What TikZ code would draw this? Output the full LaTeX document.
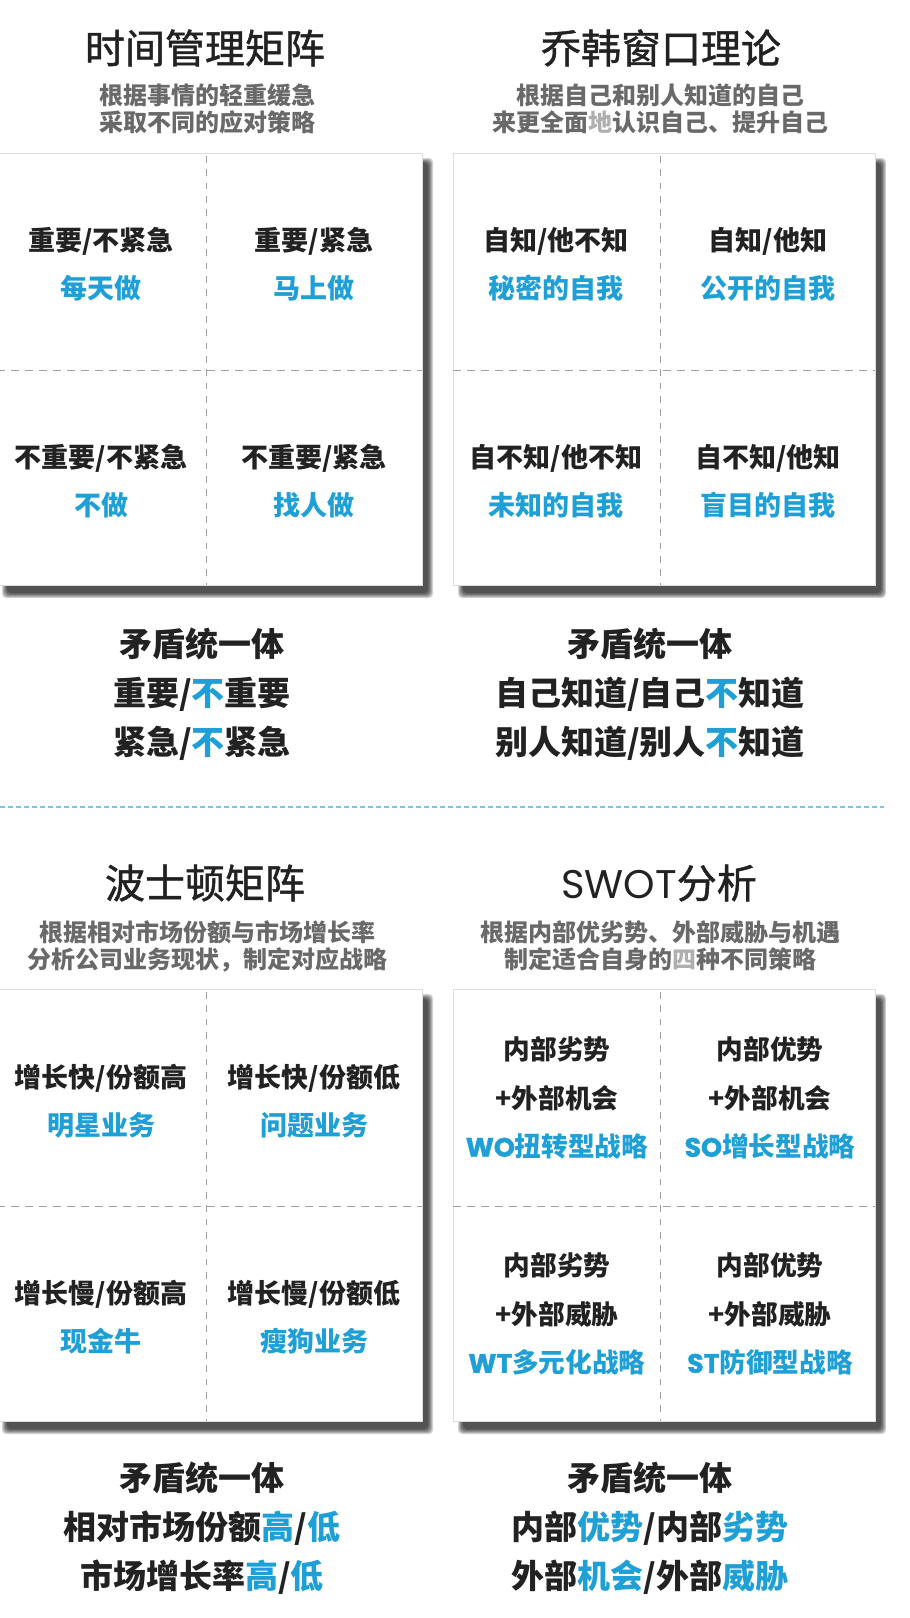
\documentclass[tikz,border=0pt]{standalone}
\usepackage{fontspec}
\setmainfont{Noto Sans CJK SC}
\newfontfamily\ttlfont{Noto Sans CJK SC}[FakeBold=1.2]
\newfontfamily\geo{Poppins}
\newfontfamily\geomid{Poppins}[FakeBold=1.5]
\definecolor{mxink}{RGB}{34,34,34}
\definecolor{mxblue}{RGB}{30,160,215}
\definecolor{mxgray}{RGB}{105,105,105}
\definecolor{mxpale}{RGB}{175,175,175}
\definecolor{mxgrid}{RGB}{160,160,160}
\definecolor{mxsep}{RGB}{120,200,225}
\definecolor{mxedge}{RGB}{222,222,222}
\tikzset{
  ttl/.style={font=\ttlfont\fontsize{30}{34}\selectfont, text=mxink, inner sep=0pt},
  sub/.style={font=\bfseries\fontsize{18}{20.25}\selectfont, text=mxgray, align=center, inner sep=0pt},
  cell/.style={font=\bfseries\fontsize{20.25}{36}\selectfont, text=mxink, align=center, inner sep=0pt},
  swot/.style={cell, font=\bfseries\fontsize{20}{36.4}\selectfont},
  sum/.style={font=\bfseries\fontsize{24.75}{36.75}\selectfont, text=mxink, align=center, inner sep=0pt},
  grid/.style={draw=mxgrid, line width=0.75pt, dash pattern=on 6pt off 4.5pt},
  sepline/.style={draw=mxsep, line width=0.9pt, dash pattern=on 3.75pt off 2.25pt},
  panel/.style={draw=mxedge, fill=white, line width=0.6pt},
  shade/.style={fill=black, fill opacity=0.17, rounded corners=3pt}
}
\begin{document}
\begin{tikzpicture}[x=0.75pt,y=-0.75pt]
  \fill[white] (0,0) rectangle (910,1618);
  \useasboundingbox (0,0) rectangle (910,1618);
  % panels with soft shadow and dashed quarters
  \foreach \xa/\xm/\xb/\ya in {-3/206/422/153, 453/660/875/153, -3/206/422/989, 453/660/875/989} {
    \foreach \r in {0,...,5}
      \fill[shade] (\xa+10-\r,\ya+10-\r) rectangle (\xb+6+\r,\ya+440+\r);
    \draw[panel] (\xa,\ya) rectangle (\xb,\ya+432);
    \draw[grid] (\xa,\ya+217) -- (\xb,\ya+217);
    \draw[grid, dash pattern=on 5pt off 5pt] (\xm,\ya+3) -- (\xm,\ya+432);
  }
  \draw[sepline] (0,807) -- (884,807);

  % time management
  \node[ttl] (tmtitle) at (205,48) {时间管理矩阵};
  \node[sub] (tmsub) at (207,109) {根据事情的轻重缓急\\采取不同的应对策略};
  \node[cell] (tm1) at (101,264) {重要/不紧急\\{\color{mxblue}每天做}};
  \node[cell] (tm2) at (314,264) {重要/紧急\\{\color{mxblue}马上做}};
  \node[cell] (tm3) at (101,481) {不重要/不紧急\\{\color{mxblue}不做}};
  \node[cell] (tm4) at (314,481) {不重要/紧急\\{\color{mxblue}找人做}};
  \node[sum] (tmsum) at (202,694) {矛盾统一体\\重要/{\color{mxblue}不}重要\\紧急/{\color{mxblue}不}紧急};

  % johari window
  \node[ttl] (jhtitle) at (661,48) {乔韩窗口理论};
  \node[sub] (jhsub) at (660,109) {根据自己和别人知道的自己\\来更全面{\color{mxpale}地}认识自己、提升自己};
  \node[cell] (jh1) at (556,264) {自知/他不知\\{\color{mxblue}秘密的自我}};
  \node[cell] (jh2) at (768,264) {自知/他知\\{\color{mxblue}公开的自我}};
  \node[cell] (jh3) at (556,481) {自不知/他不知\\{\color{mxblue}未知的自我}};
  \node[cell] (jh4) at (768,481) {自不知/他知\\{\color{mxblue}盲目的自我}};
  \node[sum] (jhsum) at (650,694) {矛盾统一体\\自己知道/自己{\color{mxblue}不}知道\\别人知道/别人{\color{mxblue}不}知道};

  % boston matrix
  \node[ttl] (bcgtitle) at (205,883) {波士顿矩阵};
  \node[sub] (bcgsub) at (207,946) {根据相对市场份额与市场增长率\\分析公司业务现状，制定对应战略};
  \node[cell] (bcg1) at (101,1101) {增长快/份额高\\{\color{mxblue}明星业务}};
  \node[cell] (bcg2) at (314,1101) {增长快/份额低\\{\color{mxblue}问题业务}};
  \node[cell] (bcg3) at (101,1317) {增长慢/份额高\\{\color{mxblue}现金牛}};
  \node[cell] (bcg4) at (314,1317) {增长慢/份额低\\{\color{mxblue}瘦狗业务}};
  \node[sum] (bcgsum) at (202,1528) {矛盾统一体\\相对市场份额{\color{mxblue}高}/{\color{mxblue}低}\\市场增长率{\color{mxblue}高}/{\color{mxblue}低}};

  % swot
  \node[ttl] (swtitle) at (659,883) {{\geo SWOT}分析};
  \node[sub] (swsub) at (660,946) {根据内部优劣势、外部威胁与机遇\\制定适合自身的{\color{mxpale}四}种不同策略};
  \node[swot] (sw1) at (557,1098) {内部劣势\\+外部机会\\{\color{mxblue}{\geomid WO}扭转型战略}};
  \node[swot] (sw2) at (770,1098) {内部优势\\+外部机会\\{\color{mxblue}{\geomid SO}增长型战略}};
  \node[swot] (sw3) at (557,1314) {内部劣势\\+外部威胁\\{\color{mxblue}{\geomid WT}多元化战略}};
  \node[swot] (sw4) at (770,1314) {内部优势\\+外部威胁\\{\color{mxblue}{\geomid ST}防御型战略}};
  \node[sum] (swsum) at (650,1528) {矛盾统一体\\内部{\color{mxblue}优势}/内部{\color{mxblue}劣势}\\外部{\color{mxblue}机会}/外部{\color{mxblue}威胁}};
\end{tikzpicture}
\end{document}
